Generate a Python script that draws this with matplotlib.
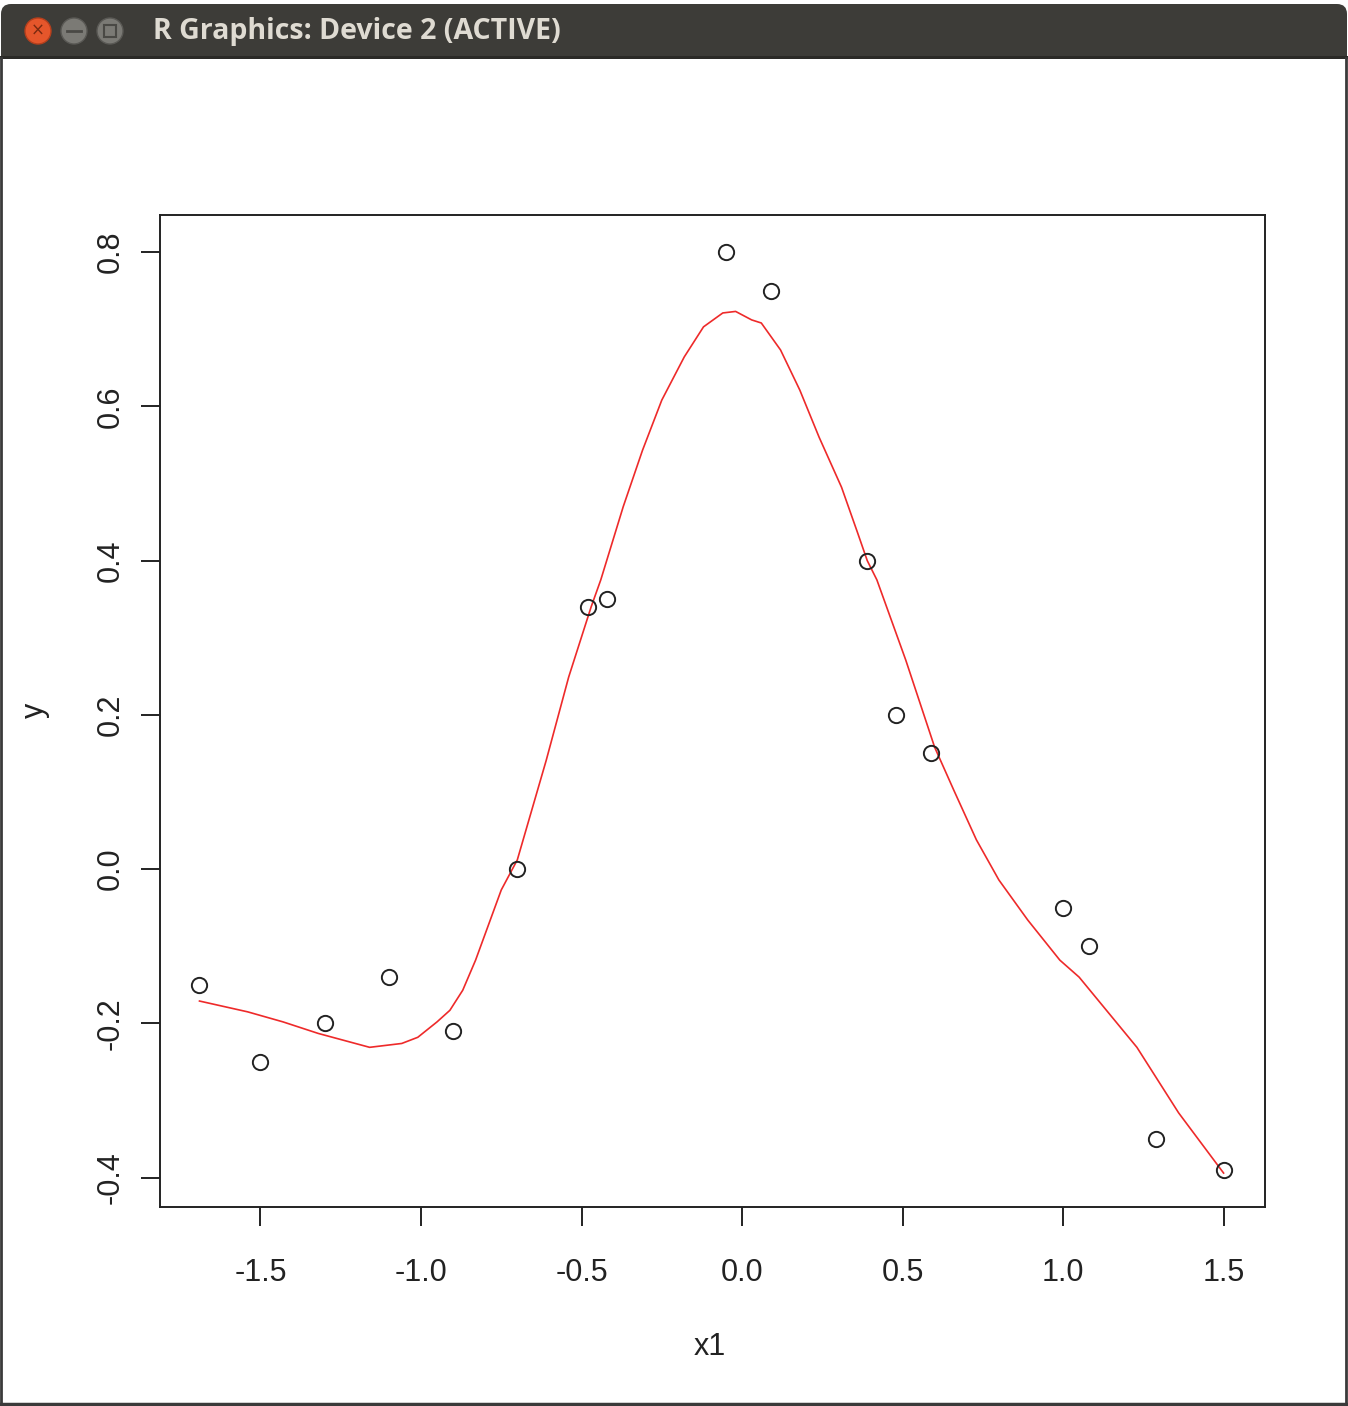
import matplotlib
matplotlib.use("Agg")
import matplotlib.pyplot as plt
from matplotlib.patches import Rectangle, Circle, FancyBboxPatch

# observed points
x1 = [-1.69, -1.50, -1.30, -1.10, -0.90, -0.70, -0.48, -0.42, -0.05, 0.09,
      0.39, 0.48, 0.59, 1.00, 1.08, 1.29, 1.50]
y = [-0.15, -0.25, -0.20, -0.14, -0.21, 0.00, 0.34, 0.35, 0.80, 0.75,
     0.40, 0.20, 0.15, -0.05, -0.10, -0.35, -0.39]

# fitted curve
curve_x = [-1.69, -1.54, -1.43, -1.32, -1.16, -1.06, -1.01, -0.95, -0.91, -0.87,
           -0.83, -0.75, -0.70, -0.61, -0.54, -0.47, -0.44, -0.37, -0.31, -0.25,
           -0.18, -0.12, -0.06, -0.02, 0.03, 0.06, 0.12, 0.18, 0.24, 0.31,
           0.36, 0.39, 0.42, 0.51, 0.60, 0.66, 0.73, 0.80, 0.89, 0.99,
           1.05, 1.23, 1.36, 1.50]
curve_y = [-0.171, -0.185, -0.198, -0.213, -0.231, -0.226, -0.218, -0.198, -0.183, -0.157,
           -0.118, -0.027, 0.012, 0.141, 0.249, 0.340, 0.375, 0.470, 0.543, 0.608,
           0.664, 0.703, 0.721, 0.723, 0.712, 0.708, 0.673, 0.621, 0.560, 0.495,
           0.436, 0.400, 0.375, 0.271, 0.158, 0.102, 0.038, -0.014, -0.066, -0.118,
           -0.140, -0.231, -0.316, -0.394]

xticks = [-1.5, -1.0, -0.5, 0.0, 0.5, 1.0, 1.5]
yticks = [-0.4, -0.2, 0.0, 0.2, 0.4, 0.6, 0.8]

W, H = 1348, 1406
fig = plt.figure(figsize=(W / 100, H / 100), dpi=100)

# window chrome
bg = fig.add_axes([0, 0, 1, 1])
bg.set_xlim(0, W)
bg.set_ylim(H, 0)
bg.axis("off")
bg.add_patch(Rectangle((0, 0), W, H, facecolor="white", edgecolor="none"))
bg.add_patch(FancyBboxPatch((1, 4), W - 2, 70, boxstyle="round,pad=0,rounding_size=10",
                            facecolor="#3d3c38", edgecolor="none"))
bg.add_patch(Rectangle((0, 58), W, H - 58, facecolor="white", edgecolor="none"))
bg.add_patch(Rectangle((0, 56), W, 3, facecolor="#2b2a27", edgecolor="none"))
bg.plot([1, 1], [58, H - 2], color="#3a3a3a", lw=2)
bg.plot([W - 2, W - 2], [58, H - 2], color="#3a3a3a", lw=2)
bg.plot([0, W], [H - 2, H - 2], color="#3a3a3a", lw=2.5)
bg.add_patch(Circle((38, 31), 13, facecolor="#e5562b", edgecolor="#b63f1c", lw=1))
bg.text(38, 31, "×", color="#7a2a10", fontsize=12, ha="center", va="center")
bg.add_patch(Circle((74, 31), 13, facecolor="#7b7a75", edgecolor="#5a5955", lw=1))
bg.plot([67, 81], [31, 31], color="#4a4945", lw=2)
bg.add_patch(Circle((110, 31), 13, facecolor="#7b7a75", edgecolor="#5a5955", lw=1))
bg.add_patch(Rectangle((104, 25), 12, 12, facecolor="none", edgecolor="#4a4945", lw=1.5))
bg.text(153, 31, "R Graphics: Device 2 (ACTIVE)", color="#dfdbd2", fontsize=20.5,
        fontweight="bold", family="Open Sans", ha="left", va="center")

# plot region
ax = fig.add_axes([160 / W, 1 - 1207 / H, 1105 / W, 992 / H])
ax.plot(curve_x, curve_y, color="#ee2a2a", lw=1.2, zorder=2,
        solid_joinstyle="round")
ax.plot(x1, y, linestyle="none", marker="o", markersize=11, markerfacecolor="none",
        markeredgecolor="#222222", markeredgewidth=1.4, zorder=3)

ax.set_xlim(-1.813, 1.629)
ax.set_ylim(-0.438, 0.848)
ax.set_xticks(xticks)
ax.set_xticklabels([f"{v:.1f}" for v in xticks])
ax.set_yticks(yticks)
ax.set_yticklabels([f"{v:.1f}" for v in yticks], rotation=90, va="center")
for s in ax.spines.values():
    s.set_linewidth(1.4)
    s.set_color("#222222")
ax.tick_params(direction="out", length=13.5, width=1.4, color="#222222",
               labelsize=22, labelcolor="#222222")
ax.tick_params(axis="x", pad=23)
ax.tick_params(axis="y", pad=11)
for lab in ax.get_xticklabels() + ax.get_yticklabels():
    lab.set_family("Liberation Sans")

fig.text(710 / W, 1 - 1347 / H, "x1", fontsize=22, family="Liberation Sans",
         ha="center", va="center", color="#222222")
fig.text(35 / W, 1 - 710 / H, "y", fontsize=22, family="Liberation Sans", rotation=90,
         ha="center", va="center", color="#222222")

fig.savefig("out.png", dpi=100)
